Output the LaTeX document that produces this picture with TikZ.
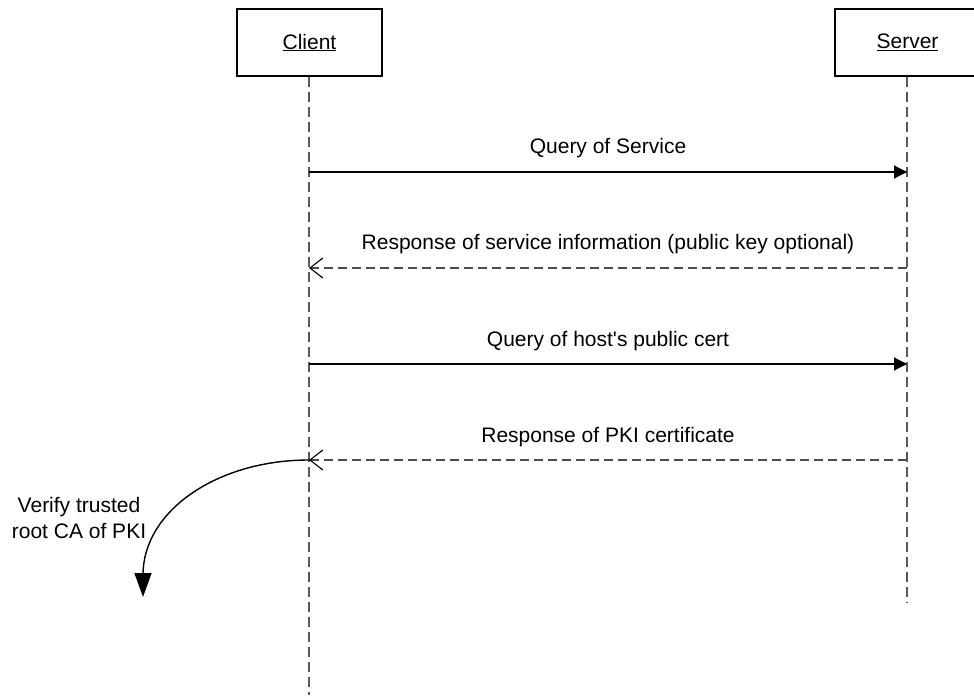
\documentclass[tikz,border=0pt]{standalone}
\usepackage{fontspec}
\setmainfont{Liberation Sans}[Ligatures=TeXOff]
\usetikzlibrary{arrows.meta}
\begin{document}
\begin{tikzpicture}[x=1pt,y=-1pt,
  every node/.style={font=\fontsize{21}{24}\selectfont},
  actor/.style={draw=black,line width=1.2pt,fill=white,minimum width=145pt,minimum height=67pt,inner sep=0pt},
  lifeline/.style={draw=black!65,line width=1.3pt,dash pattern=on 10pt off 5pt},
  call/.style={draw=black,line width=1.2pt,-{Triangle[length=13pt,width=13pt]}},
  reply/.style={draw=black!70,line width=1.2pt,dash pattern=on 9pt off 5pt,
    -{Straight Barb[length=13pt,width=20pt,line width=1.1pt,black]}},
  msg/.style={anchor=base,inner sep=0pt}]
\useasboundingbox (0,0) rectangle (974,700);

% participants
\node[actor] (client) at (309.5,42.5) {\underline{Client}};
\node[actor] (server) at (907.5,42.5) {\underline{Server}};

% lifeline ends
\coordinate (cend) at (309,695);
\coordinate (send) at (907,603);
\draw[lifeline] (client.south -| cend) -- (cend);
\draw[lifeline] (server.south -| send) -- (send);

% message anchor points on the lifelines
\foreach \i/\y in {1/172,2/268,3/364,4/460}{
  \coordinate (c\i) at (309,\y);
  \coordinate (s\i) at (907,\y);
}

\draw[call] (c1) -- (s1) node[msg,midway,yshift=18pt] (m1) {Query of Service};
\draw[reply] (s2) -- (c2) node[msg,midway,yshift=18pt] (m2) {Response of service information (public key optional)};
\draw[call] (c3) -- (s3) node[msg,midway,yshift=18pt] (m3) {Query of host's public cert};
\draw[reply] (s4) -- (c4) node[msg,midway,yshift=18pt] (m4) {Response of PKI certificate};

% self action on the client
\coordinate (vtip) at (143,597);
\draw[line width=1.4pt,-{Triangle[length=24pt,width=17pt]}]
  (c4) .. controls (217,460) and (143,511) .. (143,575) -- (vtip);
\node[align=center,inner sep=0pt,font=\fontsize{21}{26}\selectfont] (verify) at (79,518)
  {Verify trusted\\root CA of PKI};
\end{tikzpicture}
\end{document}
